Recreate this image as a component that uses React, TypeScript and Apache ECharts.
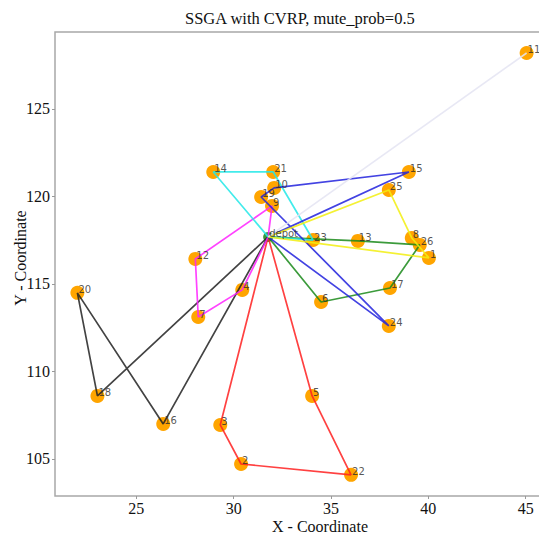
import React, { useEffect, useRef } from "react";
import * as echarts from "echarts";

const nodeIds = ["1","2","3","4","5","6","7","8","9","10","11","12","13","14","15","16","17","18","19","20","21","22","23","24","25","26"];
const nodeX = [40.03, 30.38, 29.31, 30.44, 34.03, 34.49, 28.18, 39.15, 31.97, 32.08, 45.05, 28.03, 36.38, 28.95, 39.0, 26.38, 38.03, 23.0, 31.41, 21.97, 32.03, 36.03, 34.08, 37.97, 37.97, 39.56];
const nodeY = [116.49, 104.71, 106.94, 114.66, 108.6, 113.97, 113.11, 117.63, 119.46, 120.49, 128.2, 116.43, 117.46, 121.4, 121.4, 107.0, 114.77, 108.6, 119.97, 114.49, 121.4, 104.09, 117.51, 112.6, 120.37, 117.23];
const depotX = 31.77;
const depotY = 117.69;

const routes = [
  [5, 22, 2, 3],
  [18, 20, 16],
  [9, 12, 7, 4],
  [6, 17, 26, 13],
  [14, 21, 23],
  [24, 19, 10, 15],
  [25, 8, 1],
  [11],
];
const routeColors = ["#ff2020", "#222222", "#ff22ff", "#1a8a1a", "#22e8e8", "#2222dd", "#f2ee10", "#e4e4f2"];

const xTicks = [25, 30, 35, 40, 45];
const yTicks = [105, 110, 115, 120, 125];

export default function App() {
  const ref = useRef<HTMLDivElement>(null);
  useEffect(() => {
    if (!ref.current) return;
    const chart = echarts.init(ref.current, undefined, { renderer: "svg" });
    const pts = nodeIds.map((id, i) => [nodeX[i], nodeY[i], id]);
    const routeSeries = routes.map((r, k) => {
      const path = [[depotX, depotY], ...r.map((n) => [nodeX[n - 1], nodeY[n - 1]]), [depotX, depotY]];
      return {
        type: "line",
        data: path,
        symbol: "none",
        z: 3,
        silent: true,
        lineStyle: { color: routeColors[k], width: 1.7, opacity: 0.85 },
      };
    });
    const serif = "Liberation Serif, Times New Roman, serif";
    chart.setOption({
      animation: false,
      backgroundColor: "#ffffff",
      grid: { left: 55, top: 32, right: 0, bottom: 40, show: true, borderColor: "#a8a8a8", borderWidth: 1.5, backgroundColor: "#ffffff" },
      xAxis: {
        type: "value",
        min: 20.82,
        max: 46.2,
        splitLine: { show: false },
        axisLine: { show: false },
        axisTick: { show: true, length: 3, lineStyle: { color: "#999" }, customValues: xTicks },
        axisLabel: { customValues: xTicks, color: "#111", fontFamily: serif, fontSize: 16, margin: 4 },
      },
      yAxis: {
        type: "value",
        min: 102.88,
        max: 129.4,
        splitLine: { show: false },
        axisLine: { show: false },
        axisTick: { show: true, length: 3, lineStyle: { color: "#999" }, customValues: yTicks },
        axisLabel: { customValues: yTicks, color: "#111", fontFamily: serif, fontSize: 16, margin: 5 },
      },
      graphic: [
        { type: "text", left: 310 - 125, top: 10, style: { text: "SSGA with CVRP, mute_prob=0.5", fontFamily: serif, fontSize: 16.5, fill: "#111", width: 250, align: "center" } },
        { type: "text", x: 320, y: 526.5, style: { text: "X - Coordinate", fontFamily: serif, fontSize: 16, fill: "#111", align: "center", verticalAlign: "middle" } },
        { type: "text", x: 20, y: 258, rotation: Math.PI / 2, style: { text: "Y - Coordinate", fontFamily: serif, fontSize: 16, fill: "#111", align: "center", verticalAlign: "middle" } },
      ],
      series: [
        {
          type: "scatter",
          data: pts,
          symbolSize: 14,
          z: 2,
          itemStyle: { color: "#ffa500", opacity: 1 },
        },
        {
          type: "scatter",
          data: [[depotX, depotY, "depot"]],
          symbolSize: 10,
          z: 2,
          itemStyle: { color: "#0a7a0a" },
        },
        ...routeSeries,
        {
          type: "scatter",
          data: [...pts, [depotX, depotY, "depot"]],
          symbolSize: 1,
          z: 5,
          silent: true,
          itemStyle: { color: "transparent" },
          label: {
            show: true,
            position: "inside",
            align: "left",
            verticalAlign: "middle",
            offset: [1, -3],
            formatter: (p: any) => p.data[2],
            fontFamily: "DejaVu Sans, sans-serif",
            fontSize: 10,
            color: "#2a2a2a",
          },
        },
      ],
    });
    return () => chart.dispose();
  }, []);
  return (
    <div style={{ position: "absolute", left: 0, top: 0, width: 539, height: 536, overflow: "hidden" }}>
      <div ref={ref} style={{ width: 549, height: 536 }} />
    </div>
  );
}
